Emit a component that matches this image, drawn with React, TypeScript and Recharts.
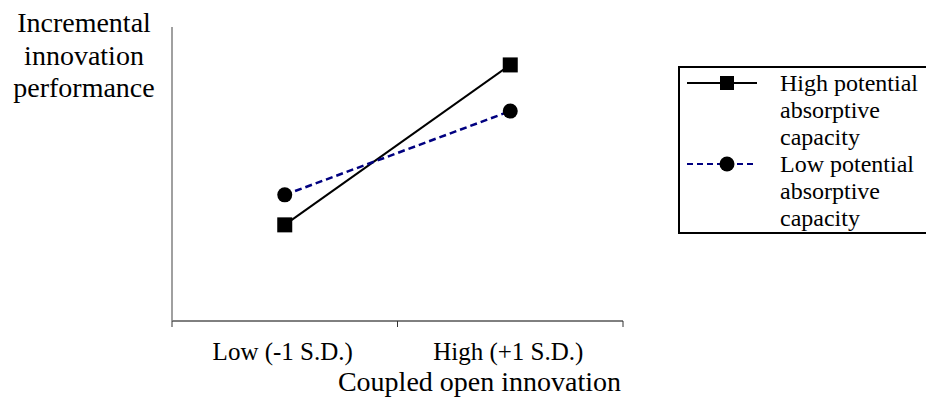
import { LineChart, Line, XAxis, YAxis } from "recharts";

const levels = ["Low (-1 S.D.)", "High (+1 S.D.)"];
const highPotential = [3.27, 8.71];
const lowPotential = [4.29, 7.14];
const yTitle = ["Incremental", "innovation", "performance"];
const seriesNames = ["High potential absorptive capacity", "Low potential absorptive capacity"];

// categories sit in the middle of their band, ticks at the band edges
const data = levels.map((level, i) => ({
  level,
  pos: i + 0.5,
  high: highPotential[i],
  low: lowPotential[i],
}));
const xTicks: number[] = [];
for (let i = 0; i <= levels.length * 2; i++) xTicks.push(i / 2);

const font = "'Liberation Serif', 'Times New Roman', serif";

function SquareDot(props: any) {
  const { cx, cy } = props;
  if (cx == null || cy == null) return null;
  return <rect x={cx - 7.5} y={cy - 7.5} width={15} height={15} fill="#000" />;
}

function CircleDot(props: any) {
  const { cx, cy } = props;
  if (cx == null || cy == null) return null;
  return <circle cx={cx} cy={cy} r={7.5} fill="#000" />;
}

function XTick(props: any) {
  const { x, y, payload } = props;
  const v = payload.value as number;
  if (Number.isInteger(v)) {
    return <line x1={x} x2={x} y1={y} y2={y + 6} stroke="#333" strokeWidth={1} />;
  }
  const label = levels[Math.floor(v)];
  return (
    <text x={x - 2} y={y + 39} textAnchor="middle" fontSize={25} fontFamily={font} fill="#000">
      {label}
    </text>
  );
}

function LegendBox() {
  const row = (name: string, dashed: boolean, square: boolean) => {
    const words = name.split(" ");
    const lines = [words.slice(0, 2).join(" "), words[2], words[3]];
    return (
      <div style={{ position: "relative", height: 81 }}>
        <svg width={80} height={27} style={{ position: "absolute", left: 7, top: 0 }}>
          <line
            x1={0}
            x2={70}
            y1={13}
            y2={13}
            stroke={dashed ? "#000080" : "#000"}
            strokeWidth={2}
            strokeDasharray={dashed ? "6 4" : undefined}
          />
          {square ? (
            <rect x={33} y={6} width={14} height={14} fill="#000" />
          ) : (
            <circle cx={40} cy={13} r={7.5} fill="#000" />
          )}
        </svg>
        <div style={{ position: "absolute", left: 100, top: 0 }}>
          {lines.map((l, i) => (
            <div key={i} style={{ height: 27, lineHeight: "27px", whiteSpace: "nowrap", fontFamily: font }}>
              {l}
            </div>
          ))}
        </div>
      </div>
    );
  };
  return (
    <div
      style={{
        position: "absolute",
        left: 678,
        top: 66,
        width: 260,
        height: 168,
        border: "2px solid #000",
        fontFamily: font,
        fontSize: 24,
        color: "#000",
        paddingTop: 2,
        boxSizing: "border-box",
        background: "#fff",
      }}
    >
      {row(seriesNames[0], false, true)}
      {row(seriesNames[1], true, false)}
    </div>
  );
}

export default function App() {
  return (
    <div style={{ position: "absolute", left: 0, top: 0, width: 926, height: 398, background: "#fff", overflow: "hidden" }}>
      <LineChart width={926} height={398} data={data} margin={{ top: 27, right: 303, left: 171, bottom: 0 }}>
        <XAxis
          dataKey="pos"
          type="number"
          domain={[0, levels.length]}
          ticks={xTicks}
          interval={0}
          tickSize={0}
          tickMargin={0}
          tickLine={false}
          axisLine={{ stroke: "#000", strokeWidth: 1 }}
          tick={<XTick />}
          height={77}
          label={{
            content: (p: any) => {
              const vb = p.viewBox || {};
              return (
                <text x={vb.x + vb.width - 2} y={391} textAnchor="end" fontSize={28} fontFamily={font} fill="#000">
                  Coupled open innovation
                </text>
              );
            },
          }}
        />
        <YAxis
          type="number"
          domain={[0, 10]}
          width={1}
          tick={false}
          tickLine={false}
          axisLine={{ stroke: "#808080", strokeWidth: 1.5 }}
          label={{
            content: () => (
              <text textAnchor="middle" fontSize={28} fontFamily={font} fill="#000">
                {yTitle.map((t, i) => (
                  <tspan key={t} x={84} y={32 + i * 32.5}>
                    {t}
                  </tspan>
                ))}
              </text>
            ),
          }}
        />
        <Line
          dataKey="high"
          name={seriesNames[0]}
          stroke="#000"
          strokeWidth={2}
          dot={<SquareDot />}
          activeDot={false}
          isAnimationActive={false}
        />
        <Line
          dataKey="low"
          name={seriesNames[1]}
          stroke="#000080"
          strokeWidth={2.5}
          strokeDasharray="7 4"
          dot={<CircleDot />}
          activeDot={false}
          isAnimationActive={false}
        />
      </LineChart>
      <LegendBox />
    </div>
  );
}
